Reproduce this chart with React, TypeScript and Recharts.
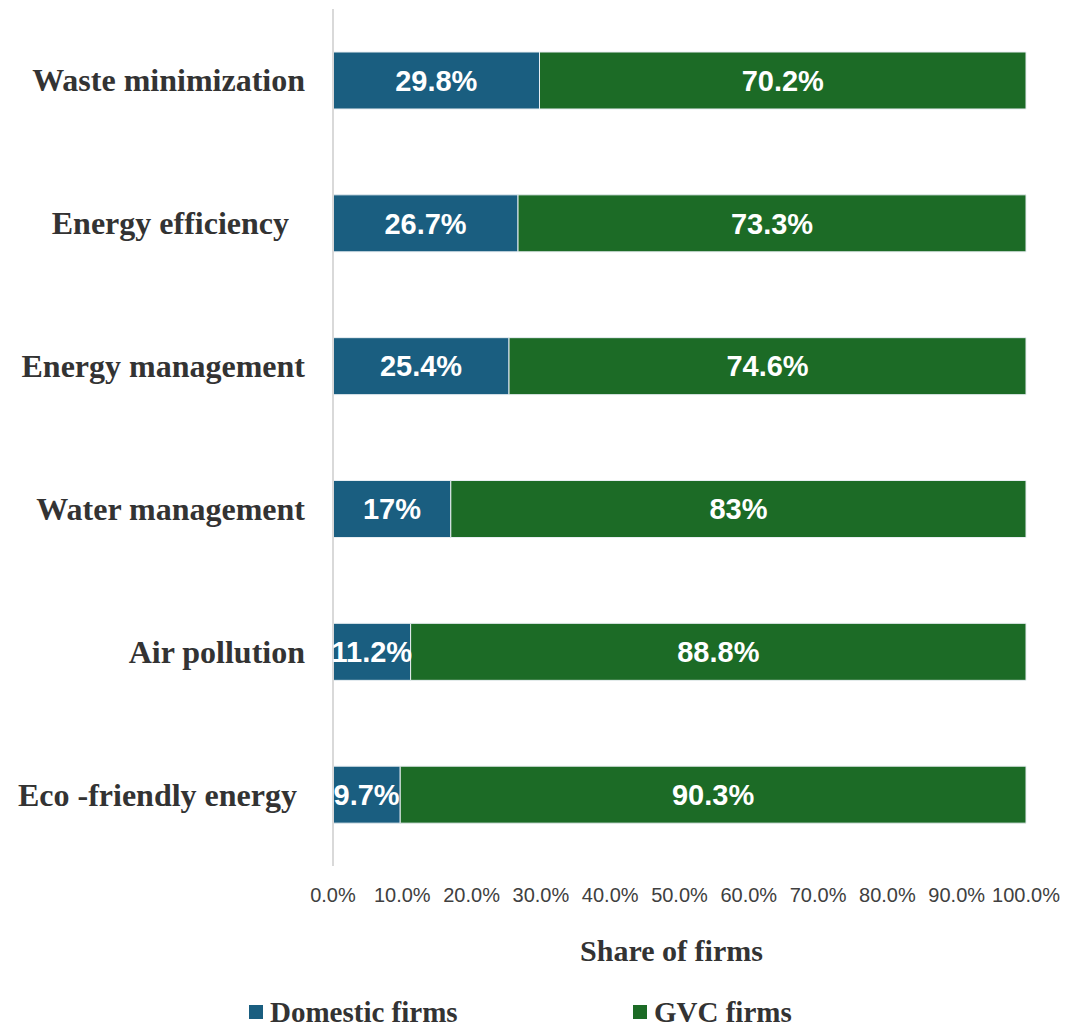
import React from "react";
import { BarChart, Bar, XAxis, YAxis, LabelList, Legend } from "recharts";

// Datos (porcentaje de empresas)
const categories = [
  "Waste minimization",
  "Energy efficiency  ",
  "Energy management",
  "Water management",
  "Air pollution",
  "Eco -friendly energy ",
];
const domestic = [29.8, 26.7, 25.4, 17, 11.2, 9.7];
const gvc = [70.2, 73.3, 74.6, 83, 88.8, 90.3];
const xTicks = [0, 10, 20, 30, 40, 50, 60, 70, 80, 90, 100];

const BLUE = "#1a5e80";
const GREEN = "#1c6b26";
const SERIF = '"Liberation Serif", "Times New Roman", serif';
const SANS = '"Liberation Sans", Arial, sans-serif';

const data = categories.map((name, i) => ({ name, domestic: domestic[i], gvc: gvc[i] }));

const fmtLabel = (v: any) => (Number.isInteger(v) ? `${v}%` : `${Number(v).toFixed(1)}%`);

function CatTick({ x, y, payload }: any) {
  return (
    <text x={x - 20} y={y} textAnchor="end" dominantBaseline="central" fill="#333"
      style={{ fontFamily: SERIF, fontWeight: 700, fontSize: 32, whiteSpace: "pre" }}>
      {payload.value}
    </text>
  );
}

function PctTick({ x, y, payload }: any) {
  return (
    <text x={x} y={y + 21} textAnchor="middle" dominantBaseline="central" fill="#404040"
      style={{ fontFamily: SANS, fontSize: 20 }}>
      {payload.value.toFixed(1)}%
    </text>
  );
}

function LegendBox() {
  const item = (left: number, color: string, label: string) => (
    <div style={{ position: "absolute", left, top: 0, height: 28, display: "flex", alignItems: "center" }}>
      <span style={{ width: 14, height: 14, background: color, display: "inline-block", marginRight: 7 }} />
      <span style={{ fontFamily: SERIF, fontWeight: 700, fontSize: 29, color: "#333" }}>{label}</span>
    </div>
  );
  return (
    <div style={{ position: "relative", width: 1073, height: 28 }}>
      {item(241, BLUE, "Domestic firms")}
      {item(625, GREEN, "GVC firms")}
    </div>
  );
}

export default function App() {
  return (
    <BarChart width={1073} height={1018} data={data} layout="vertical"
      margin={{ top: 1, right: 55, left: 0, bottom: 0 }}>
      <XAxis type="number" domain={[0, 100]} ticks={xTicks} tick={<PctTick />} tickLine={false}
        axisLine={false} height={132} interval={0}
        label={{ value: "Share of firms", position: "insideTop", offset: 74, dx: -8,
          style: { fontFamily: SERIF, fontWeight: 700, fontSize: 30, fill: "#333" } }} />
      <YAxis type="category" dataKey="name" width={325} tick={<CatTick />} tickLine={false}
        axisLine={{ stroke: "#d9d9d9", strokeWidth: 2 }} interval={0} />
      <Legend verticalAlign="bottom" content={() => <LegendBox />} wrapperStyle={{ left: 0, width: 1073 }} />
      <Bar dataKey="domestic" stackId="a" fill={BLUE} stroke="#e8eef2" strokeWidth={1} barSize={57} isAnimationActive={false}>
        <LabelList dataKey="domestic" position="center" formatter={fmtLabel}
          style={{ fill: "#fff", fontFamily: SANS, fontWeight: 700, fontSize: 29 }} />
      </Bar>
      <Bar dataKey="gvc" stackId="a" fill={GREEN} stroke="#e8eef2" strokeWidth={1} barSize={57} isAnimationActive={false}>
        <LabelList dataKey="gvc" position="center" formatter={fmtLabel}
          style={{ fill: "#fff", fontFamily: SANS, fontWeight: 700, fontSize: 29 }} />
      </Bar>
    </BarChart>
  );
}
